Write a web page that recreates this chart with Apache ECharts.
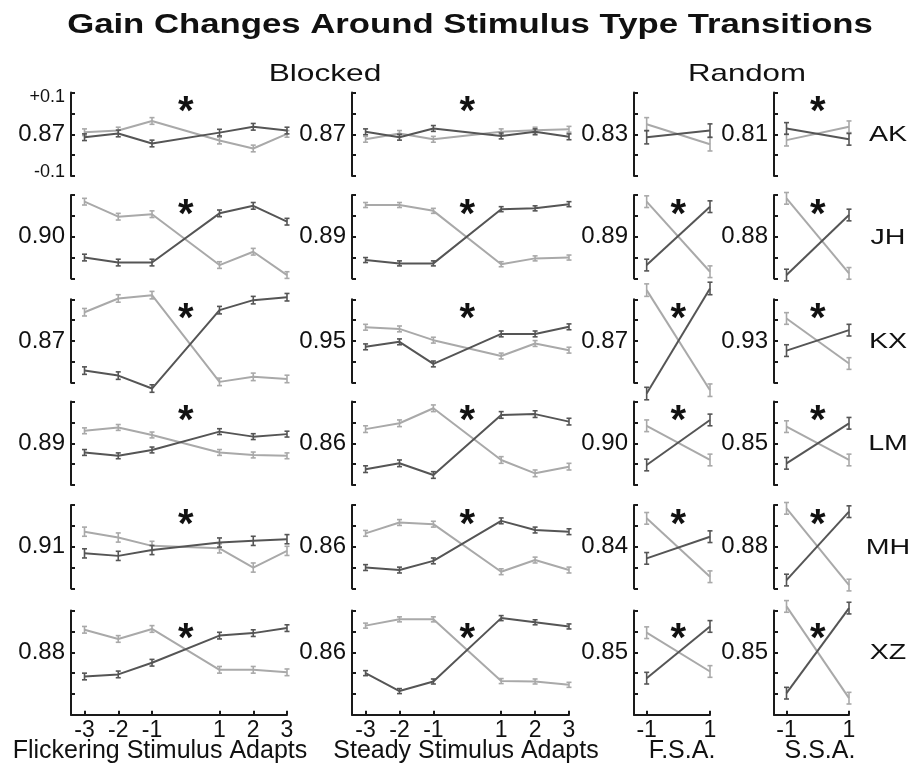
<!DOCTYPE html>
<html><head><meta charset="utf-8">
<script src="https://cdn.jsdelivr.net/npm/echarts@6/dist/echarts.min.js"></script>
<style>html,body{margin:0;padding:0;background:#fff}#c{width:910px;height:763px}</style>
</head><body><div id="c"></div>
<script>
// ---------------- data ----------------
const subjects = ['AK', 'JH', 'KX', 'LM', 'MH', 'XZ'];
const blockedX = [-3, -2, -1, 1, 2, 3];
const randomX = [-1, 1];
const blockedTicks = [-3, -2, -1, 1, 2, 3];
const randomTicks = [-1, 1];
const yOffsetTicks = [-0.1, -0.05, 0, 0.05, 0.1];
const columnNames = ['Flickering Stimulus Adapts', 'Steady Stimulus Adapts', 'F.S.A.', 'S.S.A.'];
const groupNames = ['Blocked', 'Random'];
const chartTitle = 'Gain Changes Around Stimulus Type Transitions';

// panel mean gain (label at centre tick)
const flickerMeans = ['0.87', '0.90', '0.87', '0.89', '0.91', '0.88'];
const steadyMeans  = ['0.87', '0.89', '0.95', '0.86', '0.86', '0.86'];
const fsaMeans     = ['0.83', '0.89', '0.87', '0.90', '0.84', '0.85'];
const ssaMeans     = ['0.81', '0.88', '0.93', '0.85', '0.88', '0.85'];

// gain deviation from the panel mean, one row per subject
const flickerDark = [
  [-0.007, 0.002, -0.022, 0.004, 0.018, 0.009],
  [-0.050, -0.062, -0.062, 0.056, 0.074, 0.036],
  [-0.071, -0.083, -0.114, 0.074, 0.098, 0.105],
  [-0.022, -0.030, -0.016, 0.028, 0.016, 0.022],
  [-0.016, -0.022, -0.008, 0.010, 0.014, 0.018],
  [-0.058, -0.053, -0.025, 0.040, 0.046, 0.058]
];
const flickerLight = [
  [0.005, 0.009, 0.032, -0.015, -0.034, 0.001],
  [0.084, 0.048, 0.054, -0.068, -0.036, -0.092],
  [0.069, 0.102, 0.110, -0.098, -0.086, -0.091],
  [0.030, 0.038, 0.020, -0.022, -0.028, -0.030],
  [0.036, 0.022, 0.002, -0.004, -0.050, -0.010],
  [0.054, 0.032, 0.056, -0.042, -0.042, -0.048]
];
const steadyDark = [
  [0.006, -0.007, 0.014, -0.004, 0.006, -0.006],
  [-0.056, -0.064, -0.064, 0.066, 0.068, 0.078],
  [-0.014, -0.002, -0.055, 0.017, 0.017, 0.034],
  [-0.062, -0.048, -0.076, 0.068, 0.070, 0.052],
  [-0.050, -0.056, -0.034, 0.062, 0.040, 0.036],
  [-0.050, -0.093, -0.070, 0.082, 0.072, 0.062]
];
const steadyLight = [
  [-0.012, 0.002, -0.012, 0.006, 0.010, 0.012],
  [0.076, 0.076, 0.062, -0.066, -0.052, -0.050],
  [0.033, 0.029, 0.002, -0.036, -0.006, -0.022],
  [0.034, 0.048, 0.084, -0.040, -0.072, -0.056],
  [0.032, 0.058, 0.054, -0.060, -0.032, -0.056],
  [0.064, 0.079, 0.079, -0.069, -0.070, -0.078]
];
const fsaDark = [
  [-0.007, 0.009], [-0.068, 0.072], [-0.126, 0.126],
  [-0.052, 0.056], [-0.028, 0.024], [-0.062, 0.062]
];
const fsaLight = [
  [0.024, -0.024], [0.084, -0.084], [0.122, -0.118],
  [0.042, -0.040], [0.068, -0.072], [0.047, -0.046]
];
const ssaDark = [
  [0.014, -0.012], [-0.092, 0.052], [-0.023, 0.026],
  [-0.048, 0.048], [-0.080, 0.084], [-0.098, 0.106]
];
const ssaLight = [
  [-0.014, 0.018], [0.092, -0.088], [0.054, -0.054],
  [0.040, -0.040], [0.092, -0.092], [0.110, -0.110]
];
// standard errors (per subject row)
const flickerErr = [0.008, 0.008, 0.009, 0.007, 0.011, 0.008];
const steadyErr  = [0.007, 0.006, 0.007, 0.008, 0.007, 0.006];
const fsaErr     = [0.016, 0.014, 0.015, 0.014, 0.014, 0.014];
const ssaErr     = [0.014, 0.014, 0.014, 0.014, 0.014, 0.014];
// significance asterisks
const flickerSig = [true, true, true, true, true, true];
const steadySig  = [true, true, true, true, true, true];
const fsaSig     = [false, true, true, true, true, true];
const ssaSig     = [true, true, true, true, true, true];

// ---------------- layout / style ----------------
const FONT = '"Liberation Sans", Arial, Helvetica, sans-serif';
const DARK = '#555555';
const LIGHT = '#a9a9a9';
const AXIS = '#1a1a1a';
const PX_PER_UNIT = 417;
const rowCenters = [134.3, 236.7, 341, 443.3, 546.7, 652.3];
const columns = [
  { left: 71,  width: 216, xmin: -3.4, x: blockedX, ticks: blockedTicks, means: flickerMeans, dark: flickerDark, light: flickerLight, err: flickerErr, sig: flickerSig, namePad: [0, 38, 0, 0] },
  { left: 352, width: 217, xmin: -3.4, x: blockedX, ticks: blockedTicks, means: steadyMeans,  dark: steadyDark,  light: steadyLight,  err: steadyErr,  sig: steadySig,  namePad: [0, 0, 0, 11] },
  { left: 634, width: 76,  xmin: -1.4, x: randomX,  ticks: randomTicks,  means: fsaMeans,     dark: fsaDark,     light: fsaLight,     err: fsaErr,     sig: fsaSig,     namePad: [0, 0, 0, 20] },
  { left: 774, width: 75,  xmin: -1.4, x: randomX,  ticks: randomTicks,  means: ssaMeans,     dark: ssaDark,     light: ssaLight,     err: ssaErr,     sig: ssaSig,     namePad: [0, 0, 0, 17] }
];

const grids = [], xAxes = [], yAxes = [], series = [];

function errSeries(idx, xs, vals, e, color) {
  return {
    type: 'custom', xAxisIndex: idx, yAxisIndex: idx, clip: false, silent: true, z: color === DARK ? 4 : 3,
    data: xs.map((x, i) => [x, vals[i], e]),
    renderItem: function (params, api) {
      const x = api.value(0), y = api.value(1), er = api.value(2);
      const t = api.coord([x, y + er]), b = api.coord([x, y - er]);
      const w = 2.5;
      const st = { stroke: color, lineWidth: 1.6 };
      return { type: 'group', children: [
        { type: 'line', shape: { x1: t[0], y1: t[1], x2: b[0], y2: b[1] }, style: st },
        { type: 'line', shape: { x1: t[0] - w, y1: t[1], x2: t[0] + w, y2: t[1] }, style: st },
        { type: 'line', shape: { x1: b[0] - w, y1: b[1], x2: b[0] + w, y2: b[1] }, style: st }
      ]};
    }
  };
}

columns.forEach((col, c) => {
  rowCenters.forEach((rc, r) => {
    const idx = grids.length;
    const bottomRow = r === rowCenters.length - 1;
    const ymin = bottomRow ? -0.15 : -0.1;
    const height = (0.1 - ymin) * PX_PER_UNIT;
    grids.push({ left: col.left, top: rc - 0.1 * PX_PER_UNIT, width: col.width, height: height,
                 containLabel: false, outerBoundsMode: 'none' });

    xAxes.push({
      gridIndex: idx, type: 'value', min: col.xmin, max: col.x[col.x.length - 1],
      show: bottomRow,
      axisLine: { show: true, onZero: false, lineStyle: { color: AXIS, width: 2 } },
      axisTick: { show: true, inside: true, length: 4, customValues: col.ticks, lineStyle: { color: AXIS, width: 2 } },
      axisLabel: { show: true, customValues: col.ticks, fontSize: 23, fontFamily: FONT, color: '#111', margin: 4 },
      splitLine: { show: false },
      name: bottomRow ? columnNames[c] : '', nameLocation: 'middle', nameGap: 24, nameMoveOverlap: false,
      nameTextStyle: { fontSize: 25, fontFamily: FONT, color: '#111', padding: col.namePad }
    });

    const first = c === 0 && r === 0;
    const mean = col.means[r];
    yAxes.push({
      gridIndex: idx, type: 'value', min: ymin, max: 0.1,
      axisLine: { show: true, onZero: false, lineStyle: { color: AXIS, width: 2 } },
      axisTick: { show: true, inside: true, length: 4, customValues: yOffsetTicks, lineStyle: { color: AXIS, width: 2 } },
      axisLabel: {
        show: true, customValues: first ? [-0.1, 0, 0.1] : [0], margin: 6,
        fontFamily: FONT, color: '#111', fontSize: 24,
        formatter: function (v) {
          if (Math.abs(v) < 1e-9) return '{c|' + mean + '}';
          return v > 0 ? '{p|+0.1}' : '{m|-0.1}';
        },
        rich: {
          c: { fontSize: 24, fontFamily: FONT, color: '#111' },
          p: { fontSize: 18, fontFamily: FONT, color: '#111', padding: [9, 0, 0, 0] },
          m: { fontSize: 18, fontFamily: FONT, color: '#111', padding: [0, 0, 8, 0] }
        }
      },
      splitLine: { show: false }
    });

    const light = col.light[r], dark = col.dark[r], e = col.err[r];
    series.push({
      type: 'line', xAxisIndex: idx, yAxisIndex: idx, clip: false, symbol: 'none', silent: true, z: 3,
      data: col.x.map((x, i) => [x, light[i]]), lineStyle: { color: LIGHT, width: 2 }
    });
    series.push(errSeries(idx, col.x, light, e, LIGHT));
    series.push({
      type: 'line', xAxisIndex: idx, yAxisIndex: idx, clip: false, symbol: 'none', silent: true, z: 4,
      data: col.x.map((x, i) => [x, dark[i]]), lineStyle: { color: DARK, width: 2 }
    });
    series.push(errSeries(idx, col.x, dark, e, DARK));

    if (col.sig[r]) {
      const starLevel = bottomRow ? 0.052 : 0.072;
      series.push({
        type: 'custom', xAxisIndex: idx, yAxisIndex: idx, clip: false, silent: true, z: 5,
        data: [[0, starLevel]],
        renderItem: function (params, api) {
          const p = api.coord([api.value(0), api.value(1)]);
          return { type: 'text', x: p[0], y: p[1] + 9,
            style: { text: '*', fontSize: 40, fontWeight: 'bold', fontFamily: FONT, fill: '#111',
                     align: 'center', verticalAlign: 'middle', textAlign: 'center', textVerticalAlign: 'middle' } };
        }
      });
    }
  });
});

const graphics = [
  { type: 'text', x: 470, y: 25, scaleX: 1.24, silent: true,
    style: { text: chartTitle, fontSize: 28, fontWeight: 'bold', fontFamily: FONT, fill: '#111',
             align: 'center', verticalAlign: 'middle', textAlign: 'center', textVerticalAlign: 'middle' } },
  { type: 'text', x: 325, y: 74, scaleX: 1.32, silent: true,
    style: { text: groupNames[0], fontSize: 24, fontFamily: FONT, fill: '#111',
             align: 'center', verticalAlign: 'middle', textAlign: 'center', textVerticalAlign: 'middle' } },
  { type: 'text', x: 747, y: 74, scaleX: 1.3, silent: true,
    style: { text: groupNames[1], fontSize: 24, fontFamily: FONT, fill: '#111',
             align: 'center', verticalAlign: 'middle', textAlign: 'center', textVerticalAlign: 'middle' } }
];
subjects.forEach((s, r) => {
  graphics.push({ type: 'text', x: 888, y: rowCenters[r] + 1, scaleX: 1.3, silent: true,
    style: { text: s, fontSize: 22, fontFamily: FONT, fill: '#111',
             align: 'center', verticalAlign: 'middle', textAlign: 'center', textVerticalAlign: 'middle' } });
});

const chart = echarts.init(document.getElementById('c'), null, { renderer: 'canvas' });
chart.setOption({
  animation: false,
  backgroundColor: '#fff',
  grid: grids, xAxis: xAxes, yAxis: yAxes, series: series,
  graphic: graphics
});
</script></body></html>
